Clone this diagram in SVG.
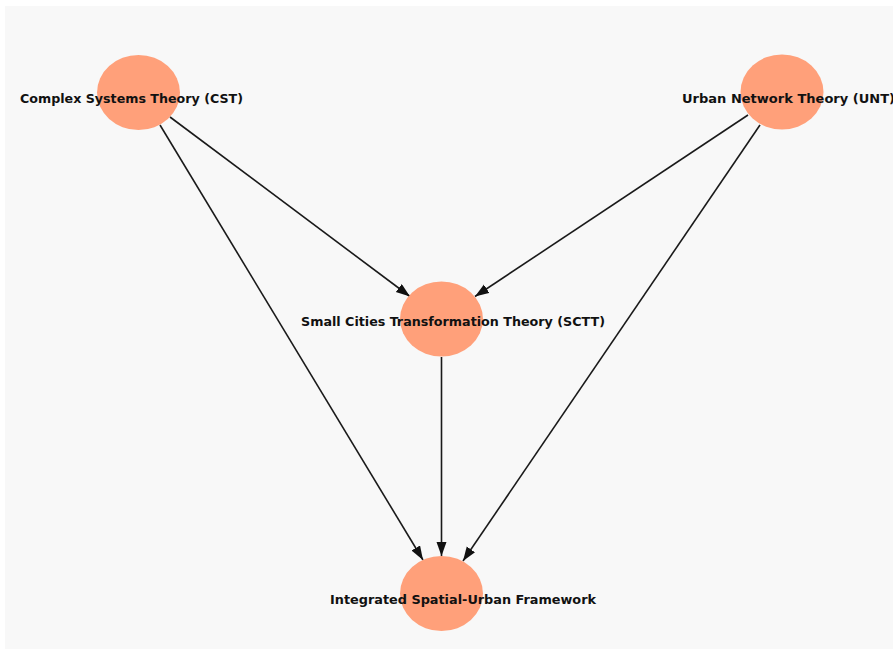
<svg xmlns="http://www.w3.org/2000/svg" width="893" height="650" viewBox="0 0 893 650">
<style>
.node{fill:#FFA07A;}
.lbl{font-family:"DejaVu Sans Condensed","DejaVu Sans",sans-serif;font-size:11.5px;font-weight:bold;fill:#111;}
.edge{stroke:#1a1a1a;stroke-width:1.6;fill:none;}
</style>
<defs>
<marker id="arr" markerUnits="userSpaceOnUse" markerWidth="15" markerHeight="11" refX="14" refY="5" orient="auto">
<path d="M0,0 L14,5 L0,10 z" fill="#111"/>
</marker>
</defs>
<rect x="0" y="0" width="893" height="650" fill="#ffffff"/>
<rect x="5" y="6" width="888" height="643" fill="#f8f8f8"/>
<g id="connectors">
<line class="edge" x1="170" y1="117" x2="410" y2="296.5" marker-end="url(#arr)"/>
<line class="edge" x1="160" y1="125" x2="423" y2="560" marker-end="url(#arr)"/>
<line class="edge" x1="748" y1="115" x2="475" y2="296.5" marker-end="url(#arr)"/>
<line class="edge" x1="760" y1="125" x2="463" y2="561" marker-end="url(#arr)"/>
<line class="edge" x1="441.5" y1="357" x2="441.5" y2="556" marker-end="url(#arr)"/>
</g>
<g id="node-cst">
<ellipse class="node" cx="138.5" cy="92.5" rx="41.5" ry="37.5"/>
<text class="lbl" x="20" y="103" textLength="223" lengthAdjust="spacingAndGlyphs">Complex Systems Theory (CST)</text>
</g>
<g id="node-unt">
<ellipse class="node" cx="782" cy="92" rx="41.5" ry="37.5"/>
<text class="lbl" x="682" y="103" textLength="213" lengthAdjust="spacingAndGlyphs">Urban Network Theory (UNT)</text>
</g>
<g id="node-sctt">
<ellipse class="node" cx="441.5" cy="319" rx="41.5" ry="37.5"/>
<text class="lbl" x="301" y="326" textLength="304" lengthAdjust="spacingAndGlyphs">Small Cities Transformation Theory (SCTT)</text>
</g>
<g id="node-isuf">
<ellipse class="node" cx="441.5" cy="593.5" rx="41.5" ry="37.5"/>
<text class="lbl" x="330" y="604" textLength="266" lengthAdjust="spacingAndGlyphs">Integrated Spatial-Urban Framework</text>
</g>
</svg>
